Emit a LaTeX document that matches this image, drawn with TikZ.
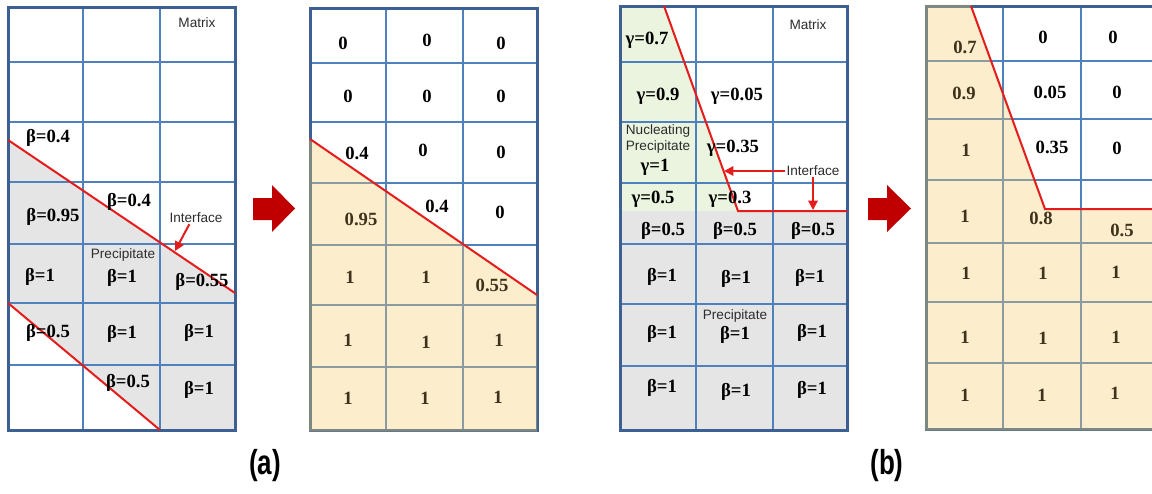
\documentclass[tikz,border=0pt]{standalone}
\usepackage{fontspec}
\setmainfont{Liberation Serif}
\setsansfont{Liberation Sans}
\usepackage{graphicx}
\usetikzlibrary{arrows.meta}
\definecolor{gridblue}{RGB}{79,129,189}
\definecolor{frameblue}{RGB}{60,96,145}
\definecolor{cellgray}{RGB}{229,229,229}
\definecolor{cellgreen}{RGB}{234,244,222}
\definecolor{overyellow}{RGB}{249,209,109}
\definecolor{linered}{RGB}{228,28,28}
\definecolor{blockred}{RGB}{192,0,0}
\definecolor{ytext}{RGB}{62,50,28}
\definecolor{labelgray}{RGB}{45,45,45}

\begin{document}
\begin{tikzpicture}[x=0.75pt,y=0.75pt,yscale=-1,xscale=1,
  cellline/.style={draw=gridblue, line width=1.5},
  outerframe/.style={draw=frameblue, line width=2.25},
  yellowcover/.style={fill=overyellow, fill opacity=0.35, draw=none},
  interline/.style={draw=linered, line width=1.5},
  pointer/.style={draw=linered, line width=1.5, -{Triangle[length=7pt,width=7pt]}},
  val/.style={font=\bfseries\fontsize{14}{16}\selectfont, inner sep=0.75pt},
  yval/.style={val, text=ytext},
  lbl/.style={font=\sffamily\fontsize{10.2}{12}\selectfont, text=labelgray, inner sep=0.75pt},
  caption/.style={font=\sffamily\bfseries\fontsize{26}{28}\selectfont, inner sep=0.75pt}]
\useasboundingbox (0,0) rectangle (1152,493);
\clip (0,0) rectangle (1152,493);
\fill [white] (0,0) rectangle (1152,493);

%%%%% (a) left grid
%Precipitate area
\fill [cellgray] (8,140) -- (235,293) -- (235,430) -- (160,430) -- (8,303) -- cycle ;
%Grid lines
\draw [cellline] (83,7) -- (83,430) ;
\draw [cellline] (160,7) -- (160,430) ;
\draw [cellline] (8,62) -- (235,62) ;
\draw [cellline] (8,122) -- (235,122) ;
\draw [cellline] (8,182) -- (235,182) ;
\draw [cellline] (8,244) -- (235,244) ;
\draw [cellline] (8,303) -- (235,303) ;
\draw [cellline] (8,365) -- (235,365) ;
\draw [outerframe] (8,7) rectangle (235,430) ;
%Interfaces
\draw [interline] (8,140) -- (235,293) ;
\draw [interline] (8,303) -- (160,430) ;
% Text Node
\draw (197,23) node [lbl] (mxa) {Matrix};
\draw (48,138) node [val] (a31) {β=0.4};
\draw (53,217) node [val] (a41) {β=0.95};
\draw (129,202) node [val] (a42) {β=0.4};
\draw (196,218) node [lbl] (ifa) {Interface};
\draw (123,255) node [lbl] (ppa) {Precipitate};
\draw (40,277) node [val] (a51) {β=1};
\draw (122,278) node [val] (a52) {β=1};
\draw (202,282) node [val] (a53) {β=0.55};
\draw (48,333) node [val] (a61) {β=0.5};
\draw (122,334) node [val] (a62) {β=1};
\draw (199,333) node [val] (a63) {β=1};
\draw (128,383) node [val] (a72) {β=0.5};
\draw (199,390) node [val] (a73) {β=1};
%Interface pointer
\coordinate (ifatip) at (175,251);
\draw [pointer] ([xshift=-5pt]ifa.south) -- (ifatip) ;

%Right Arrow
\fill [blockred] (253,198) -- (272,198) -- (272,185) -- (295,208.5) -- (272,232) -- (272,220) -- (253,220) -- cycle ;

%%%%% (a) right grid
%Grid lines
\draw [cellline] (386,8) -- (386,430) ;
\draw [cellline] (463,8) -- (463,430) ;
\draw [cellline] (310,63) -- (537,63) ;
\draw [cellline] (310,122) -- (537,122) ;
\draw [cellline] (310,183) -- (537,183) ;
\draw [cellline] (310,245) -- (537,245) ;
\draw [cellline] (310,305) -- (537,305) ;
\draw [cellline] (310,367) -- (537,367) ;
\draw [outerframe] (310,8) rectangle (537,430) ;
%Precipitate area
\fill [yellowcover] (310,139) -- (537,295) -- (537,431.5) -- (308.5,431.5) -- (308.5,139) -- cycle ;
\draw [interline] (310,139) -- (537,295) ;
% Text Node
\draw (343,43) node [val] (b11) {0};
\draw (427,40) node [val] (b12) {0};
\draw (501,43) node [val] (b13) {0};
\draw (348,96) node [val] (b21) {0};
\draw (427,96) node [val] (b22) {0};
\draw (501,96) node [val] (b23) {0};
\draw (357,153) node [val] (b31) {0.4};
\draw (423,150) node [val] (b32) {0};
\draw (501,152) node [val] (b33) {0};
\draw (361,219) node [yval] (b41) {0.95};
\draw (437,206) node [val] (b42) {0.4};
\draw (500,212) node [val] (b43) {0};
\draw (350,277) node [yval] (b51) {1};
\draw (426,277) node [yval] (b52) {1};
\draw (492,285) node [yval] (b53) {0.55};
\draw (348,340) node [yval] (b61) {1};
\draw (426,342) node [yval] (b62) {1};
\draw (499,340) node [yval] (b63) {1};
\draw (348,398) node [yval] (b71) {1};
\draw (425,398) node [yval] (b72) {1};
\draw (498,397) node [yval] (b73) {1};

%%%%% (b) left grid
%Nucleating and precipitate areas
\fill [cellgreen] (620,6) -- (664,6) -- (738,211) -- (620,211) -- cycle ;
\fill [cellgray] (620,211) rectangle (847,430) ;
%Grid lines
\draw [cellline] (696,6) -- (696,430) ;
\draw [cellline] (773,6) -- (773,430) ;
\draw [cellline] (620,62) -- (847,62) ;
\draw [cellline] (620,122) -- (847,122) ;
\draw [cellline] (620,183) -- (847,183) ;
\draw [cellline] (620,244) -- (847,244) ;
\draw [cellline] (620,304) -- (847,304) ;
\draw [cellline] (620,366) -- (847,366) ;
\draw [outerframe] (620,6) rectangle (847,430) ;
%Interfaces
\draw [interline] (664,6) -- (738,211) -- (847,211) ;
% Text Node
\draw (808,25) node [lbl] (mxc) {Matrix};
\draw (647,40) node [val] (c11) {γ=0.7};
\draw (658,96) node [val] (c21) {γ=0.9};
\draw (737,96) node [val] (c22) {γ=0.05};
\draw (658,131) node [lbl] (nuc) {Nucleating};
\draw (658,147) node [lbl] (npc) {Precipitate};
\draw (655,167) node [val] (c31) {γ=1};
\draw (733,148) node [val] (c32) {γ=0.35};
\draw (813,171) node [lbl] (ifc) {Interface};
\draw (653,199) node [val] (c41) {γ=0.5};
\draw (730,199) node [val] (c42) {γ=0.3};
\draw (663,231) node [val] (c43) {β=0.5};
\draw (735,231) node [val] (c44) {β=0.5};
\draw (813,231) node [val] (c45) {β=0.5};
\draw (662,277) node [val] (c51) {β=1};
\draw (736,279) node [val] (c52) {β=1};
\draw (810,278) node [val] (c53) {β=1};
\draw (735,316) node [lbl] (ppc) {Precipitate};
\draw (662,334) node [val] (c61) {β=1};
\draw (735,335) node [val] (c62) {β=1};
\draw (812,333) node [val] (c63) {β=1};
\draw (662,388) node [val] (c71) {β=1};
\draw (736,392) node [val] (c72) {β=1};
\draw (812,390) node [val] (c73) {β=1};
%Interface pointers
\coordinate (ifctipa) at (724,171);
\coordinate (ifctipb) at (813,210);
\draw [pointer] (ifc.west) -- (ifctipa) ;
\draw [pointer] (ifc.south) -- (ifctipb) ;

%Right Arrow
\fill [blockred] (868,198) -- (887,198) -- (887,185) -- (911,208.5) -- (887,232) -- (887,220) -- (868,220) -- cycle ;

%%%%% (b) right grid
%Grid lines
\draw [cellline] (1003,6) -- (1003,429) ;
\draw [cellline] (1081,6) -- (1081,429) ;
\draw [cellline] (926,61) -- (1158,61) ;
\draw [cellline] (926,119) -- (1158,119) ;
\draw [cellline] (926,180) -- (1158,180) ;
\draw [cellline] (926,243) -- (1158,243) ;
\draw [cellline] (926,302) -- (1158,302) ;
\draw [cellline] (926,363) -- (1158,363) ;
\draw [outerframe] (926,6) rectangle (1158,429) ;
%Precipitate area
\fill [yellowcover] (924.5,4.5) -- (971,4.5) -- (1045,209) -- (1160,209) -- (1160,430.5) -- (924.5,430.5) -- cycle ;
\draw [interline] (971,6) -- (1045,209) -- (1158,209) ;
% Text Node
\draw (965,47) node [yval] (d11) {0.7};
\draw (1043,37) node [val] (d12) {0};
\draw (1113,37) node [val] (d13) {0};
\draw (964,93) node [yval] (d21) {0.9};
\draw (1050,92) node [val] (d22) {0.05};
\draw (1117,92) node [val] (d23) {0};
\draw (966,150) node [yval] (d31) {1};
\draw (1052,147) node [val] (d32) {0.35};
\draw (1117,148) node [val] (d33) {0};
\draw (965,216) node [yval] (d41) {1};
\draw (1041,218) node [yval] (d42) {0.8};
\draw (1122,230) node [yval] (d43) {0.5};
\draw (966,273) node [yval] (d51) {1};
\draw (1043,273) node [yval] (d52) {1};
\draw (1116,272) node [yval] (d53) {1};
\draw (965,337) node [yval] (d61) {1};
\draw (1043,338) node [yval] (d62) {1};
\draw (1116,337) node [yval] (d63) {1};
\draw (965,395) node [yval] (d71) {1};
\draw (1042,395) node [yval] (d72) {1};
\draw (1115,393) node [yval] (d73) {1};

%Captions
\draw (265,466) node [caption] (capa) {\scalebox{0.75}[1]{(a)}};
\draw (887,466) node [caption] (capb) {\scalebox{0.75}[1]{(b)}};
\end{tikzpicture}
\end{document}
